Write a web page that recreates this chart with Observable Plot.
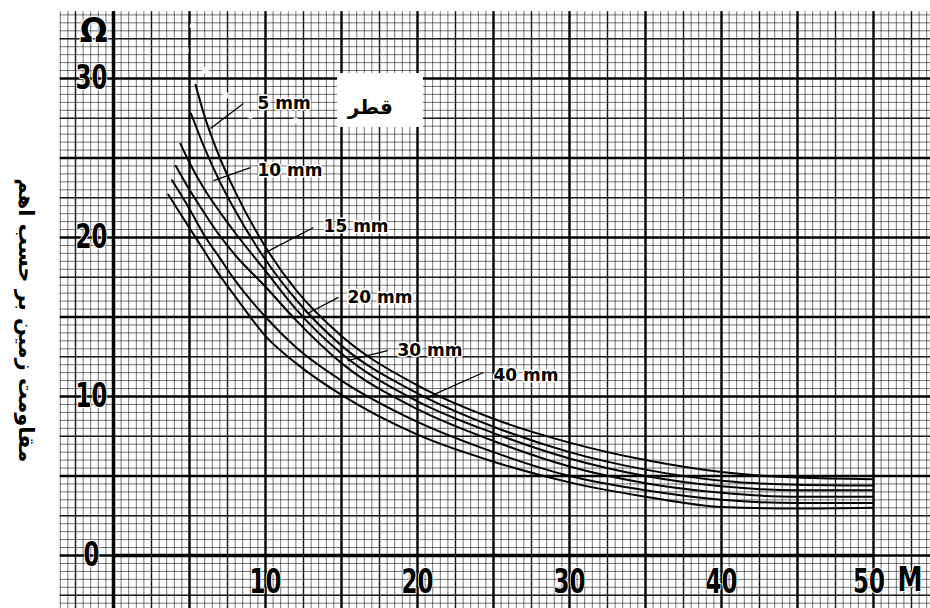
<!DOCTYPE html>
<html><head><meta charset="utf-8">
<script src="https://cdn.jsdelivr.net/npm/d3@7"></script>
<script src="https://cdn.jsdelivr.net/npm/@observablehq/plot@0.6"></script>
<style>body{margin:0;background:#fff}</style>
</head><body><div id="chart"></div>
<script>
// ---- data ----
const diameters = ["5 mm", "10 mm", "15 mm", "20 mm", "30 mm", "40 mm"];
const len5  = [5.4, 6, 7, 8, 10, 12, 15, 20, 25, 30, 35, 40, 45, 50];
const res5  = [29.6, 27.6, 25.0, 22.9, 19.4, 16.7, 13.8, 10.7, 8.6, 7.1, 6.0, 5.25, 4.9, 4.8];
const len10 = [5.1, 6, 7, 8, 10, 12, 15, 20, 25, 30, 35, 40, 45, 50];
const res10 = [27.8, 25.6, 23.5, 21.7, 18.6, 16.1, 13.2, 10.2, 8.1, 6.5, 5.4, 4.7, 4.45, 4.4];
const len15 = [4.4, 5, 6, 7, 8, 10, 12, 15, 20, 25, 30, 35, 40, 45, 50];
const res15 = [25.9, 24.7, 23.0, 21.6, 20.3, 17.9, 15.5, 12.7, 9.7, 7.7, 6.1, 5.0, 4.35, 4.1, 4.1];
const len20 = [4.1, 5, 6, 7, 8, 10, 12, 15, 20, 25, 30, 35, 40, 45, 50];
const res20 = [24.5, 23.0, 21.5, 20.1, 18.9, 16.9, 14.8, 12.1, 9.2, 7.2, 5.6, 4.55, 3.95, 3.7, 3.7];
const len30 = [3.85, 5, 6, 7, 8, 10, 12, 15, 20, 25, 30, 35, 40, 45, 50];
const res30 = [23.6, 21.8, 20.1, 18.7, 17.3, 15.0, 13.1, 11.0, 8.4, 6.5, 5.0, 4.1, 3.5, 3.3, 3.3];
const len40 = [3.6, 5, 6, 7, 8, 10, 12, 15, 20, 25, 30, 35, 40, 45, 50];
const res40 = [22.7, 20.6, 19.1, 17.6, 16.3, 13.8, 12.1, 10.1, 7.6, 5.9, 4.6, 3.7, 3.05, 2.95, 3.0];

const xTickLabels = ["10", "20", "30", "40", "50"];
const xTickValues = [10, 20, 30, 40, 50];
const yTickLabels = ["0", "10", "20", "30"];
const yTickValues = [0, 10, 20, 30];
const yUnit = "Ω";
const xUnit = "M";
const yTitle = "مقاومت زمین بر حسب اهم";
const legendTitle = "قطر";

// ---- tables built from the arrays ----
const lens = [len5, len10, len15, len20, len30, len40];
const ress = [res5, res10, res15, res20, res30, res40];
const curves = diameters.flatMap((d, i) => lens[i].map((L, j) => ({d, L, R: ress[i][j]})));

// annotation placement (data units)
const labelX = [9.47, 9.47, 13.82, 15.39, 18.68, 25.0];
const labelY = [28.43, 24.21, 20.69, 16.23, 12.89, 11.32];
const leadFrom = [[8.55, 28.43], [9.01, 24.4], [13.16, 20.63], [14.8, 16.23], [18.03, 12.89], [24.34, 11.51]];
const leadTo = [[6.38, 26.86], [6.58, 23.58], [9.87, 18.99], [12.76, 15.22], [15.39, 12.26], [20.66, 9.94]];
const labels = diameters.map((d, i) => ({d, x: labelX[i], y: labelY[i]}));
const leaders = diameters.map((d, i) => ({x1: leadFrom[i][0], y1: leadFrom[i][1], x2: leadTo[i][0], y2: leadTo[i][1]}));
// washed-out (faded) spots of the scanned paper
const fadeX = [4.74, 6.05, 7.37, 9.01, 11.64, 11.97, 5.2];
const fadeY = [31.76, 30.5, 28.93, 27.67, 31.76, 27.36, 33.3];
const fadeR = [20, 24, 22, 20, 16, 18, 16];
const fades = fadeX.map((x, i) => ({x, y: fadeY[i], r: fadeR[i]}));

// graph paper extents
const X0 = -3.5, X1 = 53.8, Y0 = -3.4, Y1 = 34.2;
const fineX = d3.range(-3.5, 54, 0.5), fineY = d3.range(-3, 34.3, 0.5);
const midX = d3.range(-2.5, 54, 5), midY = d3.range(-2.5, 34.3, 5);
const thickX = d3.range(0, 54, 5), thickY = d3.range(0, 34.3, 5);

const numFont = "'DejaVu Sans', sans-serif";
const numStyle = {fontSize: 34, fontWeight: "bold", fontFamily: numFont, fill: "#000", stroke: "#fff", strokeWidth: 2, paintOrder: "stroke", className: "numlbl"};

const chart = Plot.plot({
  width: 930, height: 608,
  x: {domain: [0, 50], range: [113, 873], axis: null},
  y: {domain: [0, 30], range: [555, 78], axis: null},
  style: {background: "#fff"},
  marks: [
    Plot.ruleX(fineX, {x: d => d, y1: Y0, y2: Y1, stroke: "#000", strokeOpacity: 0.55, strokeWidth: 1}),
    Plot.ruleY(fineY, {y: d => d, x1: X0, x2: X1, stroke: "#000", strokeOpacity: 0.55, strokeWidth: 1}),
    Plot.ruleX(midX, {x: d => d, y1: Y0, y2: Y1, stroke: "#000", strokeOpacity: 0.8, strokeWidth: 1.5}),
    Plot.ruleY(midY, {y: d => d, x1: X0, x2: X1, stroke: "#000", strokeOpacity: 0.8, strokeWidth: 1.5}),
    Plot.ruleX(thickX, {x: d => d, y1: Y0, y2: Y1, stroke: "#000", strokeWidth: 2.4}),
    Plot.ruleY(thickY, {y: d => d, x1: X0, x2: X1, stroke: "#000", strokeWidth: 2.4}),
    // axes
    Plot.ruleX([0], {y1: Y0, y2: Y1, stroke: "#000", strokeWidth: 3.5}),
    Plot.ruleY([0], {x1: 0, x2: 50, stroke: "#000", strokeWidth: 3.5}),
    // faded spots
    Plot.dot(fades, {x: "x", y: "y", r: "r", fill: "#fff", fillOpacity: 0.85, stroke: null}),
    // white box behind legend title
    Plot.rect([legendTitle], {x1: 14.74, x2: 20.39, y1: 26.92, y2: 30.31, fill: "#fff"}),
    Plot.text([legendTitle], {x: 16.9, y: 28.2, text: d => d, fontSize: 20, fontWeight: "bold", fontFamily: "'DejaVu Sans', sans-serif", fill: "#000"}),
    // curves
    Plot.line(curves, {x: "L", y: "R", z: "d", stroke: "#000", strokeWidth: 2, curve: "monotone-x"}),
    // leaders and labels
    Plot.link(leaders, {x1: "x1", y1: "y1", x2: "x2", y2: "y2", stroke: "#000", strokeWidth: 1.3}),
    Plot.text(labels, {x: "x", y: "y", text: "d", textAnchor: "start", fontSize: 17, fontWeight: "bold", fontFamily: numFont, fill: "#000", stroke: "#fff", strokeWidth: 3, paintOrder: "stroke"}),
    // tick labels
    Plot.text(xTickValues, {x: d => d === 50 ? 49.7 : d, y: -1.7, text: (d, i) => xTickLabels[i], ...numStyle}),
    Plot.text([xUnit], {x: 52.4, y: -1.55, text: d => d, ...numStyle}),
    Plot.text(yTickValues, {x: -1.45, y: d => d, text: (d, i) => yTickLabels[i], ...numStyle}),
    Plot.text([yUnit], {x: -1.3, y: 32.95, text: d => d, ...numStyle}),
    // y title
    Plot.text([yTitle], {x: -5.79, y: 14.8, text: d => d, rotate: 90, fontSize: 21, fontWeight: "bold", fontFamily: "'DejaVu Sans', sans-serif", fill: "#000"})
  ]
});
// condense the bold numerals like the reference's narrow lettering
d3.select(chart).selectAll(".numlbl text").each(function() {
  const t = this.textContent;
  const w = t === "Ω" ? 28 : t === "M" ? 25 : t.length * 16;
  this.setAttribute("textLength", w);
  this.setAttribute("lengthAdjust", "spacingAndGlyphs");
});
document.getElementById("chart").appendChild(chart);
</script>
</body></html>
